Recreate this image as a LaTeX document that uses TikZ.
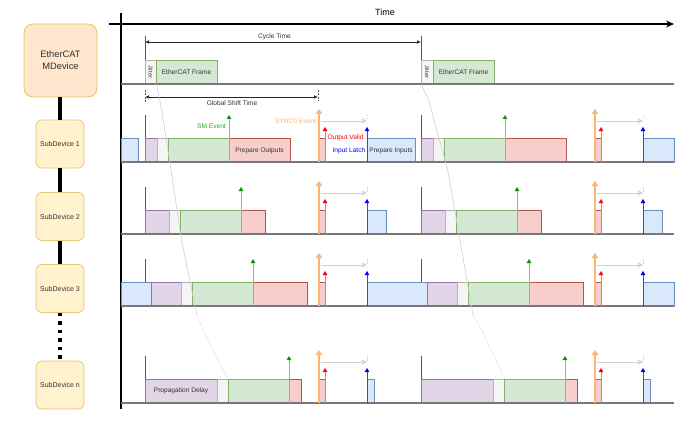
\documentclass[tikz,border=0pt]{standalone}
\usepackage{fontspec}
\setmainfont{Liberation Sans}
\usetikzlibrary{arrows.meta}
\definecolor{purF}{HTML}{E1D5E7}\definecolor{purD}{HTML}{9673A6}
\definecolor{gryF}{HTML}{F5F5F5}\definecolor{gryD}{HTML}{B3B3B3}
\definecolor{grnF}{HTML}{D5E8D4}\definecolor{grnD}{HTML}{82B366}
\definecolor{redF}{HTML}{F8CECC}\definecolor{redD}{HTML}{B85450}
\definecolor{bluF}{HTML}{DAE8FC}\definecolor{bluD}{HTML}{6C8EBF}
\definecolor{devF}{HTML}{FFF2CC}\definecolor{devD}{HTML}{E3C97A}
\definecolor{mstF}{HTML}{FFE6CC}\definecolor{mstD}{HTML}{EFC25A}
\definecolor{orgA}{HTML}{FFB570}
\definecolor{txt}{HTML}{333333}
\definecolor{grnA}{HTML}{009900}\definecolor{grnL}{HTML}{7CC47C}
\definecolor{redA}{HTML}{FF0000}\definecolor{redL}{HTML}{F07070}
\definecolor{bluA}{HTML}{0000FF}\definecolor{bluL}{HTML}{4040F0}
\definecolor{lgray}{HTML}{D0D0D0}
\definecolor{dgray}{HTML}{555555}
\tikzset{
  bx/.style={line width=0.9pt},
  pbox/.style={bx,fill=purF,draw=purD},
  gbox/.style={bx,fill=gryF,draw=gryD},
  grbox/.style={bx,fill=grnF,draw=grnD},
  rbox/.style={bx,fill=redF,draw=redD},
  bbox/.style={bx,fill=bluF,draw=bluD},
  tickln/.style={draw=dgray,line width=0.8pt},
  garr/.style={draw=grnL,line width=0.9pt,-{Triangle[length=4pt,width=4.5pt,color=grnA]}},
  rarr/.style={draw=redL,line width=0.9pt,-{Triangle[length=4pt,width=4.5pt,color=redA]}},
  barr/.style={draw=bluL,line width=0.9pt,-{Triangle[length=4pt,width=4.5pt,color=bluA]}},
  oarr/.style={draw=orgA,line width=1.6pt,-{Triangle[length=5pt,width=6.5pt]}},
  grarr/.style={draw=lgray,line width=0.9pt,-{Triangle[length=5pt,width=5pt,open,fill=lgray!40]}},
  grdash/.style={draw=lgray,line width=0.8pt,dashed,dash pattern=on 1.5pt off 1.5pt},
  baseln/.style={draw=dgray!80,line width=1.1pt},
  prop/.style={draw=lgray,line width=0.6pt},
  lbl/.style={font=\fontsize{6.6}{8}\selectfont,text=txt,inner sep=0pt},
  dev/.style={draw=devD,fill=devF,rounded corners=6pt,line width=0.8pt,minimum width=48pt,minimum height=48pt,font=\fontsize{7}{8}\selectfont,text=txt},
  link/.style={line width=4pt,black},
}
% #1 dx, #2 base, #3 purple start, #4 purple end, #5 gray end, #6 green end, #7 red end
\newcommand\cycdraw[7]{%
  \draw[tickln] (#1+145,#2-47) -- (#1+145,#2-24);
  \draw[pbox] (#1+#3,#2-24) rectangle (#1+#4,#2);
  \draw[gbox] (#1+#4,#2-24) rectangle (#1+#5,#2);
  \draw[grbox] (#1+#5,#2-24) rectangle (#1+#6,#2);
  \draw[rbox] (#1+#6,#2-24) rectangle (#1+#7,#2);
  \draw[rbox] (#1+319,#2-24) rectangle (#1+325,#2);
}
\newcommand\evarrows[3]{% #1 dx, #2 base, #3 green x
  \draw[garr] (#1+#3,#2) -- (#1+#3,#2-47);
  \draw[oarr] (#1+319,#2) -- (#1+319,#2-53);
  \draw[rarr] (#1+325,#2) -- (#1+325,#2-35);
  \draw[grarr] (#1+320.5,#2-41) -- (#1+367,#2-41);
  \draw[grdash] (#1+367,#2-47) -- (#1+367,#2-41);
  \draw[barr] (#1+367,#2) -- (#1+367,#2-35);
}
\begin{document}
\begin{tikzpicture}[x=1pt,y=-1pt]
\useasboundingbox (0,0) rectangle (698,433);
\fill[white] (0,0) rectangle (698,433);

% devices
\node[draw=mstD,fill=mstF,rounded corners=9pt,line width=0.8pt,minimum width=73pt,minimum height=73pt,align=center,font=\fontsize{9.3}{12}\selectfont,text=txt] (m) at (60.5,60.5) {EtherCAT\\MDevice};
\node[dev] (s1) at (60,144) {SubDevice 1};
\node[dev] (s2) at (60,216.5) {SubDevice 2};
\node[dev] (s3) at (60,288.5) {SubDevice 3};
\node[dev] (sn) at (60,385) {SubDevice n};
\draw[link] (m.south -| s1.north) -- (s1.north);
\draw[link] (s1) -- (s2);
\draw[link] (s2) -- (s3);
\draw[link,dash pattern=on 3.5pt off 5pt] (s3) -- (sn);

% axes
\draw[line width=1.8pt] (120.7,13) -- (120.7,409);
\draw[line width=1.8pt,-{Stealth[length=8pt,width=7pt]}] (108.7,24) -- (674,24);
\node[font=\fontsize{9}{10}\selectfont,text=black] (time) at (385,12) {Time};

% frame row
\draw[tickln] (145,36) -- (145,84);
\draw[tickln] (421,36) -- (421,84);
\draw[line width=0.7pt,black!85,{Latex[length=4pt,width=3.5pt]}-{Latex[length=4pt,width=3.5pt]}] (145,42) -- (421,42);
\node[lbl] (ct) at (274.5,37) {Cycle Time};
\draw[gbox] (145,60) rectangle (156,84);
\node[lbl,font=\fontsize{5.6}{7}\selectfont,rotate=-90] (j1) at (150.5,72) {Jitter};
\draw[grbox] (156,60) rectangle (217,84);
\node[lbl] (f1) at (186.5,72) {EtherCAT Frame};
\draw[gbox] (421,60) rectangle (433,84);
\node[lbl,font=\fontsize{5.6}{7}\selectfont,rotate=-90] (j2) at (427,72) {Jitter};
\draw[grbox] (433,60) rectangle (494,84);
\node[lbl] (f2) at (463.5,72) {EtherCAT Frame};
\draw[baseln] (120.7,84) -- (674,84);

% global shift
\draw[tickln,dashed,dash pattern=on 2pt off 1.5pt] (145,90) -- (145,103);
\draw[tickln,dashed,dash pattern=on 2pt off 1.5pt] (318,90) -- (318,101);
\draw[line width=0.7pt,black!85,{Latex[length=4pt,width=3.5pt]}-{Latex[length=4pt,width=3.5pt]}] (145,97) -- (318,97);
\node[lbl] (gs) at (232,103.5) {Global Shift Time};

% blue boxes
\draw[bbox] (121.5,138) rectangle (138,162);
\draw[bbox] (367,138) rectangle (415,162);
\node[lbl] (pi) at (391,150.5) {Prepare Inputs};
\draw[bbox] (643,138) rectangle (674,162);
\draw[bbox] (367,210) rectangle (386,234);
\draw[bbox] (643,210) rectangle (662,234);
\draw[tickln] (145,259) -- (145,283);
\draw[tickln] (421,259) -- (421,283);
\draw[bbox] (121.5,282) rectangle (151,306);
\draw[bbox] (367,282) rectangle (427,306);
\draw[bbox] (643,282) rectangle (674,306);
\draw[bbox] (367,379) rectangle (374,403);
\draw[bbox] (643,379) rectangle (650,403);

% cycles
\cycdraw{0}{162}{145}{157}{168}{229}{290}
\cycdraw{276}{162}{145}{157}{168}{229}{290}
\cycdraw{0}{234}{145}{169}{180}{241}{265}
\cycdraw{276}{234}{145}{169}{180}{241}{265}
\cycdraw{0}{306}{151}{181}{192}{253}{307}
\cycdraw{276}{306}{151}{181}{192}{253}{307}
\cycdraw{0}{403}{145}{217}{228}{289}{301}
\cycdraw{276}{403}{145}{217}{228}{289}{301}
\node[lbl] (po) at (259.5,150.5) {Prepare Outputs};
\node[lbl] (pd) at (181,391) {Propagation Delay};

% baselines
\foreach \b in {162,234,306,403} \draw[baseln] (120.7,\b) -- (674,\b);

% propagation lines
\draw[prop] (156.5,84) -- (161.7,110) -- (171,170) -- (181.5,240) -- (196.7,314);
\draw[prop,dash pattern=on 1.5pt off 1.5pt] (196.7,314) -- (203,330) -- (228,379);
\draw[prop] (421,84) -- (428.5,100) -- (447.7,170) -- (473,315);
\draw[prop,dash pattern=on 1.5pt off 1.5pt] (473,315) -- (481.7,330) -- (505,379);

% event arrows
\evarrows{0}{162}{229}
\evarrows{276}{162}{229}
\evarrows{0}{234}{241}
\evarrows{276}{234}{241}
\evarrows{0}{306}{253}
\evarrows{276}{306}{253}
\evarrows{0}{403}{289}
\evarrows{276}{403}{289}

% labels
\node[lbl,text=grnA!85!white,anchor=east] (sm) at (226,126) {SM Event};
\node[lbl,text=orgA,anchor=east] (sy) at (316,121) {SYNC0 Event};
\node[lbl,text=redA,anchor=west] (ov) at (327.5,138) {Output Valid};
\node[lbl,text=bluA,anchor=east] (il) at (365.5,151) {Input Latch};
\end{tikzpicture}
\end{document}
